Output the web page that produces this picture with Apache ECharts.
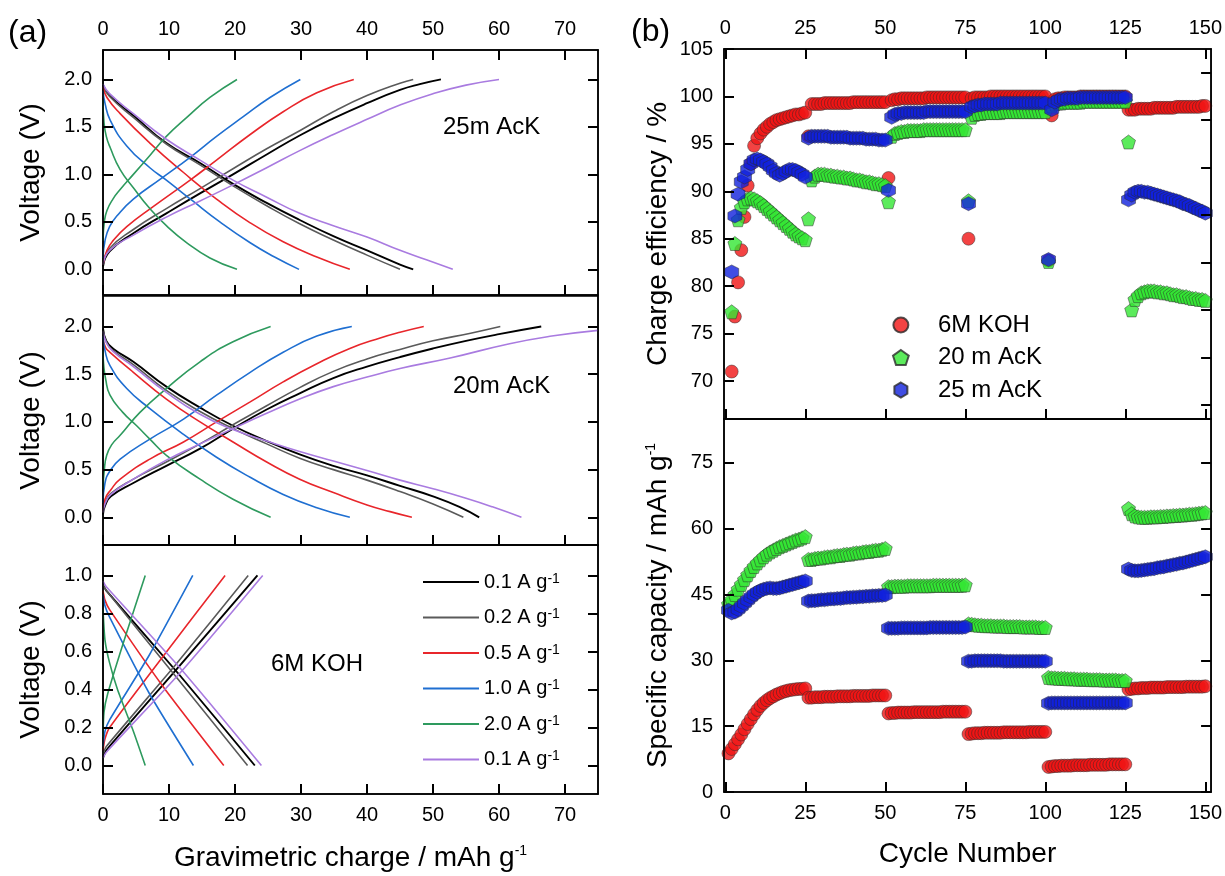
<!DOCTYPE html>
<html>
<head>
<meta charset="utf-8">
<title>Galvanostatic curves and cycling</title>
<script src="https://cdn.jsdelivr.net/npm/echarts@6/dist/echarts.min.js"></script>
<style>
  html, body { margin: 0; padding: 0; background: #fff; }
  #chart { width: 1225px; height: 876px; }
</style>
</head>
<body>
<div id="chart"></div>
<script>
// ---------- (a) charge / discharge curves, [mAh g-1, V] ----------
// order of every list: 0.1, 0.2, 0.5, 1.0, 2.0, 0.1 (again) A g-1
const rateKeys = ['r01', 'r02', 'r05', 'r10', 'r20', 'r01b'];
const rateLabels = ['0.1 A g', '0.2 A g', '0.5 A g', '1.0 A g', '2.0 A g', '0.1 A g'];
const rateColors = ['#000000', '#5a5a5a', '#e8262b', '#1f6fd1', '#2e9a5e', '#a97be0'];

const ack25Charge = [
  [[0,0.03],[1,0.19],[4.6,0.38],[9.6,0.59],[14.7,0.8],[19.7,1.0],[24.8,1.21],[29.8,1.41],[34.9,1.59],[40,1.75],[45,1.89],[48,1.95],[51.2,2.0]],
  [[0,0.05],[1,0.22],[4.6,0.42],[9.6,0.64],[14.7,0.85],[19.7,1.06],[24.8,1.27],[29.8,1.46],[34.9,1.66],[40,1.83],[45,1.96],[47,2.0]],
  [[0,0.05],[0.6,0.2],[1.5,0.3],[3.6,0.45],[7.6,0.66],[13.2,0.94],[17.2,1.15],[22.3,1.42],[27.3,1.66],[32.4,1.86],[38,2.0]],
  [[0,0.12],[0.3,0.3],[1,0.45],[2.2,0.57],[4.6,0.74],[8.9,0.96],[13.2,1.18],[17.2,1.4],[21.3,1.61],[25.3,1.81],[29.9,2.0]],
  [[0,0.3],[0.2,0.5],[0.6,0.62],[1.5,0.74],[2.6,0.84],[4.6,1.0],[7.1,1.2],[9.6,1.4],[12.7,1.6],[16.2,1.81],[20.3,2.0]],
  [[0,0.05],[1,0.2],[4.6,0.36],[9.6,0.55],[14.7,0.72],[19.7,0.89],[24.8,1.07],[29.8,1.25],[34.9,1.42],[40,1.58],[45,1.73],[50,1.85],[55,1.94],[60,2.0]]
];
const ack25Discharge = [
  [[0,1.94],[1,1.83],[4.6,1.62],[9.6,1.33],[14.7,1.12],[19.7,0.9],[24.8,0.7],[29.8,0.52],[34.9,0.35],[40,0.2],[45,0.05],[47,0]],
  [[0,1.93],[1,1.82],[4.6,1.6],[9.6,1.32],[14.7,1.1],[19.7,0.88],[24.8,0.67],[29.8,0.48],[34.9,0.31],[40,0.15],[45,0]],
  [[0,1.92],[0.6,1.81],[2.6,1.64],[7.1,1.33],[12.2,1.02],[17.2,0.74],[22.3,0.49],[27.3,0.29],[32.4,0.13],[37.4,0]],
  [[0,1.88],[0.3,1.75],[1.1,1.57],[3.6,1.3],[7.1,1.07],[9.6,0.94],[13.6,0.72],[17.7,0.5],[22.3,0.28],[26,0.13],[29.7,0]],
  [[0,1.78],[0.15,1.55],[0.5,1.4],[1.1,1.28],[2.6,1.05],[4.6,0.86],[7.1,0.64],[9.6,0.46],[12.7,0.28],[16.2,0.12],[20.3,0]],
  [[0,1.95],[1,1.85],[4.6,1.64],[9.6,1.37],[14.7,1.15],[19.7,0.94],[24.8,0.76],[29.8,0.59],[34.9,0.46],[40,0.34],[45,0.2],[49,0.1],[53,0]]
];

const ack20Charge = [
  [[0,0.03],[0.3,0.12],[1.2,0.22],[4.6,0.36],[9.6,0.54],[14.7,0.72],[19.7,0.93],[24.8,1.13],[29.8,1.3],[34.9,1.46],[40,1.58],[45,1.68],[50,1.77],[55,1.85],[60,1.92],[66.4,2.0]],
  [[0,0.05],[0.3,0.15],[1.2,0.25],[4.6,0.4],[9.6,0.58],[14.7,0.77],[19.7,0.97],[24.8,1.17],[29.8,1.36],[34.9,1.53],[40,1.66],[45,1.76],[50,1.85],[55.7,1.93],[60.2,2.0]],
  [[0,0.06],[0.3,0.19],[1.2,0.29],[2.6,0.4],[7.1,0.61],[12.2,0.79],[17.2,1.0],[22.3,1.21],[27.3,1.42],[32.4,1.61],[37.4,1.77],[42,1.88],[45,1.94],[48.6,2.0]],
  [[0,0.15],[0.3,0.36],[1,0.48],[2.6,0.61],[7.1,0.82],[12.2,1.03],[17.2,1.28],[22.3,1.52],[27.3,1.73],[32.4,1.9],[37.7,2.0]],
  [[0,0.3],[0.2,0.5],[0.56,0.65],[1.3,0.76],[2.6,0.86],[5.6,1.1],[9.6,1.35],[14.7,1.63],[19.7,1.84],[25.4,2.0]],
  [[0,0.05],[0.3,0.14],[1.2,0.24],[4.6,0.4],[9.6,0.6],[14.7,0.77],[19.7,0.93],[24.8,1.09],[29.8,1.24],[34.9,1.37],[40,1.47],[45,1.56],[52.6,1.67],[61.6,1.82],[68,1.9],[75,1.96]]
];
const ack20Discharge = [
  [[0,1.98],[0.5,1.85],[1.5,1.77],[4.6,1.63],[9.6,1.37],[14.7,1.15],[19.7,0.96],[24.8,0.8],[29.8,0.66],[34.9,0.54],[40,0.44],[45,0.33],[50,0.22],[54,0.11],[57,0]],
  [[0,1.96],[0.5,1.84],[1.5,1.75],[4.6,1.6],[9.6,1.33],[14.7,1.11],[19.7,0.93],[24.8,0.77],[29.8,0.62],[34.9,0.5],[40,0.39],[45,0.27],[50,0.14],[54.6,0]],
  [[0,1.87],[0.4,1.78],[1.06,1.73],[4.6,1.52],[9.6,1.24],[14.7,1.0],[19.7,0.79],[24.8,0.58],[29.8,0.4],[34.9,0.26],[40,0.13],[43.5,0.06],[46.8,0]],
  [[0,1.9],[0.3,1.75],[1.06,1.59],[3.6,1.35],[7.1,1.14],[12.2,0.87],[17.2,0.63],[22.3,0.42],[27.3,0.24],[32.4,0.1],[37.4,0]],
  [[0,1.75],[0.1,1.6],[0.4,1.45],[1.06,1.28],[3,1.1],[5.1,0.96],[7.1,0.82],[9.6,0.65],[14.7,0.4],[19.7,0.19],[25.4,0]],
  [[0,1.95],[0.5,1.83],[1.5,1.74],[4.6,1.58],[9.6,1.31],[14.7,1.08],[19.7,0.92],[24.8,0.8],[29.8,0.69],[34.9,0.59],[40,0.49],[45,0.39],[50,0.3],[55,0.2],[59,0.11],[63.4,0]]
];

const kohCharge = [
  [[0,0.04],[0.5,0.08],[11.5,0.52],[23.4,1.0]],
  [[0,0.06],[0.5,0.1],[11,0.53],[22,1.0]],
  [[0,0.08],[0.3,0.14],[1,0.2],[9,0.57],[18.5,1.0]],
  [[0,0.1],[0.3,0.18],[1,0.24],[7,0.58],[13.6,1.0]],
  [[0,0.15],[0.15,0.28],[0.73,0.38],[3.4,0.68],[6.4,1.0]],
  [[0,0.04],[0.5,0.07],[12,0.5],[24.2,1.0]]
];
const kohDischarge = [
  [[0,0.95],[0.5,0.92],[11.5,0.48],[23,0]],
  [[0,0.95],[0.5,0.92],[11,0.47],[21.9,0]],
  [[0,0.92],[0.3,0.87],[1,0.82],[9,0.42],[18.3,0]],
  [[0,0.9],[0.3,0.84],[1,0.78],[7,0.38],[13.7,0]],
  [[0,0.82],[0.3,0.66],[1,0.54],[2.2,0.4],[4.6,0.18],[6.4,0]],
  [[0,0.97],[0.5,0.94],[12,0.5],[24,0]]
];

// ---------- (b) cycling, one value per cycle 1..150 ----------
const electrolytes = ['6M KOH', '20 m AcK', '25 m AcK'];
const effKOH = [
  null,71.0,76.8,80.4,83.8,87.3,90.6,92.9,94.8,95.6,
  96.1,96.5,96.8,97.1,97.3,97.5,97.6,97.7,97.8,97.9,
  98.0,98.1,98.1,98.2,98.3,95.8,99.2,99.2,99.2,99.2,
  99.3,99.3,99.3,99.3,99.3,99.3,99.3,99.3,99.3,99.4,
  99.4,99.4,99.4,99.4,99.4,99.4,99.4,99.4,99.4,99.4,
  91.4,99.6,99.7,99.7,99.8,99.8,99.8,99.8,99.8,99.8,
  99.8,99.8,99.9,99.9,99.9,99.9,99.9,99.9,99.9,99.9,
  99.9,99.9,99.9,99.9,99.9,85.0,99.8,99.9,99.9,99.9,
  99.9,99.9,100.0,100.0,100.0,100.0,100.0,100.0,100.0,100.0,
  100.0,100.0,100.0,100.0,100.0,100.0,100.0,100.0,100.0,100.0,
  82.7,98.0,99.7,99.8,99.8,99.9,99.9,99.9,99.9,99.9,
  100.0,100.0,100.0,100.0,100.0,100.0,100.0,100.0,100.0,100.0,
  100.0,100.0,100.0,100.0,100.0,98.6,98.6,98.6,98.7,98.7,
  98.7,98.7,98.7,98.8,98.8,98.8,98.8,98.8,98.8,98.8,
  98.9,98.9,98.9,98.9,98.9,98.9,98.9,98.9,99.0,99.0
];
const effAcK20 = [
  null,77.3,84.5,87.0,88.3,88.9,89.2,89.3,89.2,89.0,
  88.8,88.5,88.2,87.9,87.6,87.3,87.0,86.7,86.4,86.1,
  85.8,85.5,85.3,85.1,84.9,87.1,91.2,91.6,91.8,91.8,
  91.8,91.7,91.7,91.6,91.6,91.5,91.5,91.4,91.4,91.3,
  91.2,91.2,91.1,91.0,91.0,90.9,90.8,90.8,90.7,90.6,
  88.9,95.8,96.1,96.2,96.3,96.3,96.4,96.4,96.4,96.4,
  96.4,96.5,96.5,96.5,96.5,96.5,96.5,96.5,96.5,96.5,
  96.5,96.5,96.5,96.5,96.5,89.0,97.8,98.1,98.2,98.2,
  98.3,98.3,98.3,98.3,98.3,98.3,98.4,98.4,98.4,98.4,
  98.4,98.4,98.4,98.4,98.4,98.4,98.4,98.4,98.4,98.4,
  82.6,99.0,99.2,99.3,99.3,99.4,99.4,99.4,99.4,99.4,
  99.4,99.5,99.5,99.5,99.5,99.5,99.5,99.5,99.5,99.5,
  99.5,99.5,99.5,99.5,99.5,95.2,77.5,78.6,79.0,79.3,
  79.4,79.5,79.5,79.5,79.4,79.4,79.3,79.3,79.2,79.1,
  79.1,79.0,78.9,78.9,78.8,78.7,78.7,78.6,78.6,78.5
];
const effAcK25 = [
  null,81.5,87.4,89.7,91.0,91.5,92.3,92.9,93.3,93.4,
  93.3,93.1,92.9,92.6,92.2,91.9,91.7,91.9,92.1,92.3,
  92.3,92.2,92.0,91.8,91.5,95.6,95.8,95.8,95.8,95.8,
  95.8,95.8,95.7,95.7,95.7,95.7,95.7,95.7,95.6,95.6,
  95.6,95.6,95.6,95.5,95.5,95.5,95.5,95.4,95.4,95.4,
  90.1,97.8,98.1,98.2,98.2,98.3,98.3,98.3,98.3,98.3,
  98.3,98.3,98.4,98.4,98.4,98.4,98.4,98.4,98.4,98.4,
  98.4,98.4,98.4,98.4,98.4,88.7,98.9,99.0,99.1,99.1,
  99.2,99.2,99.2,99.2,99.2,99.3,99.3,99.3,99.3,99.3,
  99.3,99.3,99.3,99.3,99.3,99.3,99.3,99.3,99.3,99.3,
  82.8,98.6,99.4,99.6,99.7,99.7,99.8,99.8,99.8,99.8,
  99.9,99.9,99.9,99.9,99.9,99.9,99.9,99.9,99.9,99.9,
  99.9,99.9,99.9,99.9,99.9,89.1,89.6,89.9,90.0,90.0,
  89.9,89.9,89.8,89.7,89.6,89.5,89.4,89.3,89.2,89.1,
  89.0,88.9,88.7,88.6,88.5,88.3,88.2,88.0,87.9,87.7
];
const capKOH = [
  8.8,9.8,10.9,12.0,13.1,14.3,15.5,16.6,17.7,18.7,
  19.6,20.3,20.9,21.4,21.8,22.2,22.5,22.8,23.0,23.2,
  23.3,23.4,23.5,23.5,23.6,21.5,21.5,21.6,21.6,21.6,
  21.7,21.7,21.7,21.7,21.8,21.8,21.8,21.8,21.8,21.9,
  21.9,21.9,21.9,21.9,21.9,22.0,22.0,22.0,22.0,22.0,
  17.9,18.0,18.0,18.1,18.1,18.1,18.1,18.1,18.2,18.2,
  18.2,18.2,18.2,18.2,18.2,18.2,18.2,18.3,18.3,18.3,
  18.3,18.3,18.3,18.3,18.3,13.2,13.3,13.4,13.4,13.4,
  13.5,13.5,13.5,13.5,13.5,13.5,13.6,13.6,13.6,13.6,
  13.6,13.6,13.6,13.6,13.7,13.7,13.7,13.7,13.7,13.7,
  5.7,5.8,5.9,5.9,6.0,6.0,6.0,6.0,6.1,6.1,
  6.1,6.1,6.1,6.2,6.2,6.2,6.2,6.2,6.2,6.3,
  6.3,6.3,6.3,6.3,6.3,23.4,23.5,23.6,23.6,23.7,
  23.7,23.7,23.8,23.8,23.8,23.8,23.8,23.9,23.9,23.9,
  23.9,23.9,23.9,24.0,24.0,24.0,24.0,24.0,24.0,24.1
];
const capAcK20 = [
  42.8,43.8,45.0,46.2,47.3,48.4,49.5,50.5,51.4,52.2,
  52.9,53.6,54.2,54.7,55.1,55.5,55.9,56.2,56.5,56.8,
  57.1,57.4,57.6,57.9,58.2,53.0,53.0,53.2,53.3,53.3,
  53.5,53.6,53.6,53.8,53.9,53.9,54.1,54.2,54.2,54.4,
  54.5,54.5,54.7,54.8,54.8,55.0,55.1,55.1,55.3,55.5,
  46.8,46.8,46.9,46.9,46.9,46.9,47.0,47.0,47.0,47.0,
  47.0,47.0,47.0,47.0,47.1,47.1,47.1,47.1,47.1,47.1,
  47.1,47.1,47.1,47.1,47.2,38.3,38.2,38.1,38.0,38.0,
  37.9,37.9,37.9,37.8,37.8,37.8,37.8,37.7,37.7,37.7,
  37.7,37.7,37.6,37.6,37.6,37.6,37.6,37.5,37.5,37.5,
  26.1,26.0,26.0,25.9,25.9,25.9,25.8,25.8,25.8,25.7,
  25.7,25.7,25.7,25.6,25.6,25.6,25.6,25.5,25.5,25.5,
  25.5,25.5,25.4,25.4,25.4,64.6,63.4,62.9,62.7,62.6,
  62.6,62.6,62.7,62.7,62.7,62.8,62.8,62.9,62.9,63.0,
  63.0,63.1,63.1,63.2,63.3,63.3,63.4,63.5,63.6,63.7
];
const capAcK25 = [
  41.4,40.8,41.0,41.6,42.3,43.0,43.7,44.4,45.0,45.5,
  45.9,46.2,46.4,46.5,46.4,46.4,46.5,46.7,46.9,47.1,
  47.3,47.5,47.7,47.9,48.1,43.5,43.6,43.6,43.7,43.8,
  43.8,43.9,44.0,44.0,44.1,44.1,44.2,44.3,44.3,44.4,
  44.4,44.5,44.5,44.6,44.6,44.7,44.7,44.8,44.8,44.9,
  37.3,37.3,37.3,37.3,37.4,37.4,37.4,37.4,37.4,37.4,
  37.4,37.4,37.4,37.5,37.5,37.5,37.5,37.5,37.5,37.5,
  37.5,37.5,37.5,37.5,37.6,29.8,29.8,29.9,29.9,29.9,
  29.9,29.9,29.9,29.9,29.9,29.9,29.8,29.8,29.8,29.8,
  29.8,29.8,29.8,29.8,29.8,29.8,29.8,29.8,29.8,29.8,
  20.2,20.3,20.3,20.3,20.3,20.3,20.3,20.3,20.3,20.3,
  20.3,20.3,20.3,20.3,20.3,20.3,20.3,20.3,20.3,20.3,
  20.3,20.3,20.3,20.3,20.3,50.8,50.5,50.4,50.4,50.5,
  50.6,50.7,50.8,50.9,51.1,51.2,51.3,51.5,51.6,51.8,
  51.9,52.1,52.2,52.4,52.6,52.8,53.0,53.2,53.4,53.6
];

// tick values
const chargeTicks = [0, 10, 20, 30, 40, 50, 60, 70];
const voltTicksAcK = [0, 0.5, 1.0, 1.5, 2.0];
const voltTicksKOH = [0, 0.2, 0.4, 0.6, 0.8, 1.0];
const cycleTicks = [0, 25, 50, 75, 100, 125, 150];
const effTicks = [70, 75, 80, 85, 90, 95, 100, 105];
const effRightTicks = [67.5, 72.5, 77.5, 82.5, 87.5, 92.5, 97.5, 102.5];
const capTicks = [0, 15, 30, 45, 60, 75];

// ---------- chart ----------
const FONT = '"Liberation Sans", Arial, Helvetica, sans-serif';
const chart = echarts.init(document.getElementById('chart'), null, { renderer: 'canvas' });

const supRich = { sup: { fontSize: 14, verticalAlign: 'top', fontFamily: FONT, color: '#000' } };

function tick(values, show = true) {
  return { show, inside: true, length: 10, customValues: values, lineStyle: { color: '#000', width: 2 } };
}
function label(values, show, size, margin, fmt) {
  return { show, customValues: values, fontSize: size, color: '#000', fontFamily: FONT, margin, formatter: fmt };
}
const axisLineStyle = { show: true, onZero: false, lineStyle: { color: '#000', width: 1.5 } };
function xAx(gridIndex, position, min, max, ticks, showLabel, extra) {
  return Object.assign({
    type: 'value', gridIndex, position, min, max, z: 10,
    axisLine: axisLineStyle, splitLine: { show: false },
    axisTick: tick(ticks),
    axisLabel: label(ticks, showLabel, 20, 11)
  }, extra || {});
}
function yAx(gridIndex, position, min, max, ticks, showLabel, fmt, extra) {
  return Object.assign({
    type: 'value', gridIndex, position, min, max, z: 10,
    axisLine: axisLineStyle, splitLine: { show: false },
    axisTick: tick(ticks),
    axisLabel: label(ticks, showLabel, 20, 11, fmt)
  }, extra || {});
}
const volt = (v) => v.toFixed(1);
const voltName = {
  name: 'Voltage (V)', nameLocation: 'middle', nameRotate: 90, nameGap: 58,
  nameTextStyle: { fontSize: 28, color: '#000', fontFamily: FONT }
};

const gridBox = { show: true, borderColor: '#000', borderWidth: 1.5, containLabel: false };
const grids = [
  Object.assign({ left: 103, top: 50, width: 495, height: 245 }, gridBox),
  Object.assign({ left: 103, top: 296, width: 495, height: 249 }, gridBox),
  Object.assign({ left: 103, top: 545, width: 495, height: 249 }, gridBox),
  Object.assign({ left: 724, top: 49, width: 488, height: 370 }, gridBox),
  Object.assign({ left: 724, top: 419, width: 488, height: 373 }, gridBox)
];

const xAxes = [
  xAx(0, 'bottom', 0, 75, chargeTicks, false),
  xAx(0, 'top', 0, 75, chargeTicks, true),
  xAx(1, 'bottom', 0, 75, chargeTicks, false),
  xAx(2, 'bottom', 0, 75, chargeTicks, true, {
    name: 'Gravimetric charge / mAh g{sup|-1}', nameLocation: 'middle', nameGap: 50,
    nameTextStyle: { fontSize: 28, color: '#000', fontFamily: FONT, rich: supRich }
  }),
  xAx(3, 'top', -0.4, 151.8, cycleTicks, true),
  xAx(3, 'bottom', -0.4, 151.8, cycleTicks, false),
  xAx(4, 'bottom', -0.4, 151.8, cycleTicks, true, {
    name: 'Cycle Number', nameLocation: 'middle', nameGap: 48,
    nameTextStyle: { fontSize: 28, color: '#000', fontFamily: FONT }
  })
];

const yAxes = [
  yAx(0, 'left', -0.27, 2.31, voltTicksAcK, true, volt, voltName),
  yAx(0, 'right', -0.27, 2.31, voltTicksAcK, false),
  yAx(1, 'left', -0.29, 2.32, voltTicksAcK, true, volt, voltName),
  yAx(1, 'right', -0.29, 2.32, voltTicksAcK, false),
  yAx(2, 'left', -0.15, 1.16, voltTicksKOH, true, volt, voltName),
  yAx(2, 'right', -0.15, 1.16, voltTicksKOH, false),
  yAx(3, 'left', 66, 105, effTicks, true, null, {
    name: 'Charge efficiency / %', nameLocation: 'middle', nameRotate: 90, nameGap: 52,
    nameTextStyle: { fontSize: 28, color: '#000', fontFamily: FONT }
  }),
  yAx(3, 'right', 66, 105, effRightTicks, false),
  yAx(4, 'left', 0, 85, capTicks, true, null, {
    name: 'Specific capacity / mAh g{sup|-1}', nameLocation: 'middle', nameRotate: 90, nameGap: 52,
    nameTextStyle: { fontSize: 28, color: '#000', fontFamily: FONT, rich: supRich }
  }),
  yAx(4, 'right', 0, 85, capTicks, false)
];

const series = [];
const panels = [
  { charge: ack25Charge, discharge: ack25Discharge, x: 0, y: 0, smooth: 0.5 },
  { charge: ack20Charge, discharge: ack20Discharge, x: 2, y: 2, smooth: 0.5 },
  { charge: kohCharge, discharge: kohDischarge, x: 3, y: 4, smooth: 0.2 }
];
panels.forEach((p) => {
  rateKeys.forEach((key, k) => {
    [p.charge[k], p.discharge[k]].forEach((curve) => {
      series.push({
        type: 'line', name: key, data: curve,
        xAxisIndex: p.x, yAxisIndex: p.y,
        symbol: 'none', smooth: p.smooth,
        color: rateColors[k],
        lineStyle: { color: rateColors[k], width: k === 0 ? 1.9 : 1.6 },
        z: 3
      });
    });
  });
});

const pentagon = 'path://M0,-1 L0.951,-0.309 L0.588,0.809 L-0.588,0.809 L-0.951,-0.309 Z';
const hexagon = 'path://M0,-1 L0.866,-0.5 L0.866,0.5 L0,1 L-0.866,0.5 L-0.866,-0.5 Z';
const markerStyles = [
  { symbol: 'circle', size: 13, color: '#f01414' },
  { symbol: pentagon, size: 14, color: '#33e633' },
  { symbol: hexagon, size: 14, color: '#1020dc' }
];
const toPoints = (arr) => arr.map((v, i) => (v == null ? null : [i + 1, v])).filter(Boolean);
const effSets = [effKOH, effAcK20, effAcK25];
const capSets = [capKOH, capAcK20, capAcK25];
electrolytes.forEach((name, j) => {
  const m = markerStyles[j];
  [[effSets[j], 4, 6], [capSets[j], 6, 8]].forEach(([vals, xi, yi]) => {
    series.push({
      type: 'scatter', name, data: toPoints(vals),
      xAxisIndex: xi, yAxisIndex: yi,
      symbol: m.symbol, symbolSize: m.size,
      itemStyle: { color: m.color, borderColor: '#2a2a2a', borderWidth: 0.6 },
      z: 4 + j
    });
  });
});

const option = {
  backgroundColor: '#ffffff',
  animation: false,
  textStyle: { fontFamily: FONT },
  grid: grids,
  xAxis: xAxes,
  yAxis: yAxes,
  legend: [
    {
      data: rateKeys.map((n) => ({ name: n, icon: 'rect' })),
      orient: 'vertical', left: 418, top: 567,
      itemWidth: 56, itemHeight: 2, itemGap: 15.5, selectedMode: false,
      formatter: (n) => rateLabels[rateKeys.indexOf(n)] + '{sup|-1}',
      textStyle: { fontSize: 20, color: '#000', fontFamily: FONT, rich: supRich }
    },
    {
      data: electrolytes, orient: 'vertical', left: 887, top: 308,
      itemWidth: 64, itemHeight: 15, itemGap: 8.5, selectedMode: false,
      textStyle: { fontSize: 24, color: '#000', fontFamily: FONT }
    }
  ],
  graphic: [
    { type: 'text', left: 8, top: 17, style: { text: '(a)', fontSize: 32, fill: '#000', fontFamily: FONT } },
    { type: 'text', left: 631, top: 16, style: { text: '(b)', fontSize: 32, fill: '#000', fontFamily: FONT } },
    { type: 'text', left: 443, top: 115, style: { text: '25m AcK', fontSize: 24, fill: '#000', fontFamily: FONT } },
    { type: 'text', left: 453, top: 374, style: { text: '20m AcK', fontSize: 24, fill: '#000', fontFamily: FONT } },
    { type: 'text', left: 271, top: 652, style: { text: '6M KOH', fontSize: 24, fill: '#000', fontFamily: FONT } }
  ],
  series
};
chart.setOption(option);
window.addEventListener('resize', () => chart.resize());
</script>
</body>
</html>
